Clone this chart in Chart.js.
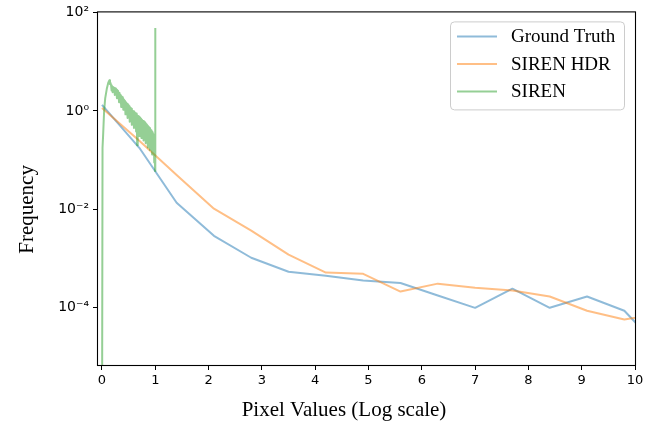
<!DOCTYPE html>
<html><head><meta charset="utf-8">
<script src="https://cdn.jsdelivr.net/npm/chart.js@4.4.1/dist/chart.umd.min.js"></script>
<style>html,body{margin:0;padding:0;background:#fff;overflow:hidden}#wrap{width:668px;height:428px}</style>
</head><body><div id="wrap"><canvas id="c" width="668" height="428"></canvas></div>
<script>
const seriesNames = ['Ground Truth', 'SIREN HDR', 'SIREN'];
const seriesColors = ['rgba(31,119,180,0.5)', 'rgba(255,127,14,0.5)', 'rgba(44,160,44,0.5)'];
const xTitle = 'Pixel Values (Log scale)';
const yTitle = 'Frequency';

const binX = [0, 0.7, 1.4, 2.1, 2.8, 3.5, 4.2, 4.9, 5.6, 6.3, 7.0, 7.7, 8.4, 9.1, 9.8, 10.5];
const groundTruth = [1.32, 0.178, 0.0136, 0.0029, 0.00104, 0.00054, 0.00045, 0.00036, 0.00032, 0.000178, 0.0001, 0.000245, 0.0001, 0.00017, 0.000087, 0.000014];
const sirenHdr = [1.15, 0.246, 0.05, 0.0103, 0.0037, 0.0012, 0.00052, 0.00049, 0.000214, 0.00031, 0.000257, 0.000224, 0.00017, 0.000087, 0.000058, 0.000076];

const sirenX = [0.000, 0.010, 0.020, 0.040, 0.060, 0.090, 0.120, 0.140, 0.150, 0.160,
  0.17, 0.18, 0.19, 0.20, 0.21, 0.22, 0.23, 0.24, 0.25, 0.26, 0.27, 0.28, 0.29, 0.30,
  0.31, 0.32, 0.33, 0.34, 0.35, 0.36, 0.37, 0.38, 0.39, 0.40, 0.41, 0.42, 0.43, 0.44,
  0.45, 0.46, 0.47, 0.48, 0.49, 0.50, 0.51, 0.52, 0.53, 0.54, 0.55, 0.56, 0.57, 0.58,
  0.59, 0.60, 0.61, 0.62, 0.63, 0.64, 0.65, 0.66, 0.67, 0.68, 0.69, 0.70, 0.71, 0.72,
  0.73, 0.74, 0.75, 0.76, 0.77, 0.78, 0.79, 0.80, 0.81, 0.82, 0.83, 0.84, 0.85, 0.86,
  0.87, 0.88, 0.89, 0.90, 0.91, 0.92, 0.93, 0.94, 0.95, 0.96, 0.97, 0.98, 0.99, 0.995, 1.0];
const siren = [1e-7, 0.18, 0.3, 1.0, 1.8, 2.8, 3.8, 4.2, 3.5, 3.7,
  3.31, 2.6, 3.1, 2.4, 3.0, 2.5, 2.9, 2.1, 2.85, 2.3, 2.7, 1.8, 2.55, 1.9,
  2.4, 1.5, 2.3, 1.6, 2.1, 1.2, 1.95, 1.35, 1.9, 1.05, 1.7, 1.15, 1.6, 0.85,
  1.5, 0.95, 1.4, 0.72, 1.3, 0.8, 1.22, 0.6, 1.15, 0.7, 1.1, 0.52, 1.0, 0.6,
  0.98, 0.45, 0.95, 0.55, 0.9, 0.38, 0.88, 0.2, 0.8, 0.42, 0.78, 0.31, 0.74, 0.4,
  0.7, 0.28, 0.66, 0.36, 0.62, 0.25, 0.6, 0.3, 0.56, 0.22, 0.53, 0.27, 0.5, 0.18,
  0.47, 0.24, 0.45, 0.16, 0.42, 0.21, 0.4, 0.13, 0.37, 0.17, 0.33, 0.09, 0.3, 0.06, 48];

const xTicks = [0, 1, 2, 3, 4, 5, 6, 7, 8, 9, 10];
const yTicks = [1e-4, 1e-2, 1, 100];
const yTickLabels = ['10\u207B\u2074', '10\u207B\u00B2', '10\u2070', '10\u00B2'];

const pairs = (xs, ys) => xs.map((x, i) => ({x: x, y: ys[i]}));

const framePlugin = {
  id: 'frame',
  afterDatasetsDraw(chart) {
    const {ctx, chartArea: a} = chart;
    ctx.save();
    ctx.strokeStyle = '#000';
    ctx.lineWidth = 1.1;
    ctx.strokeRect(a.left - 0.5, a.top - 0.5, a.right - a.left + 1, a.bottom - a.top + 1);
    ctx.restore();
  }
};

const titlesPlugin = {
  id: 'axisTitles',
  afterDraw(chart) {
    const {ctx, chartArea: a} = chart;
    ctx.save();
    ctx.fillStyle = '#000';
    ctx.font = '21px "Liberation Serif"';
    ctx.textAlign = 'center';
    ctx.textBaseline = 'middle';
    ctx.fillText(xTitle, a.left + 246, a.bottom + 45);
    ctx.translate(27, a.top + 197);
    ctx.rotate(-Math.PI / 2);
    ctx.fillText(yTitle, 0, 0);
    ctx.restore();
  }
};

const legendPlugin = {
  id: 'boxLegend',
  afterDraw(chart) {
    const {ctx, chartArea: a} = chart;
    const w = 174, h = 88;
    const x0 = a.right - 11 - w, y0 = a.top + 9;
    ctx.save();
    ctx.beginPath();
    ctx.roundRect(x0 + 0.5, y0 + 0.5, w, h, 4);
    ctx.fillStyle = 'rgba(255,255,255,0.8)';
    ctx.fill();
    ctx.strokeStyle = '#cccccc';
    ctx.lineWidth = 1;
    ctx.stroke();
    ctx.font = '19px "Liberation Serif"';
    ctx.textBaseline = 'middle';
    ctx.textAlign = 'left';
    chart.data.datasets.forEach((ds, i) => {
      const ry = y0 + 15 + i * 27.5;
      ctx.beginPath();
      ctx.strokeStyle = ds.borderColor;
      ctx.lineWidth = 2;
      ctx.moveTo(x0 + 7, ry);
      ctx.lineTo(x0 + 47, ry);
      ctx.stroke();
      ctx.fillStyle = '#000';
      ctx.fillText(ds.label, x0 + 61, ry + 1);
    });
    ctx.restore();
  }
};

new Chart(document.getElementById('c'), {
  type: 'line',
  data: {
    datasets: [
      {label: seriesNames[0], data: pairs(binX, groundTruth), borderColor: seriesColors[0], order: 3},
      {label: seriesNames[1], data: pairs(binX, sirenHdr), borderColor: seriesColors[1], order: 2},
      {label: seriesNames[2], data: pairs(sirenX, siren), borderColor: seriesColors[2], order: 1}
    ]
  },
  options: {
    responsive: false,
    animation: false,
    devicePixelRatio: 1,
    layout: {padding: {top: 12, right: 33, left: 0, bottom: 0}},
    elements: {
      point: {radius: 0, hoverRadius: 0},
      line: {borderWidth: 2, tension: 0, fill: false, borderCapStyle: 'butt', borderJoinStyle: 'round'}
    },
    plugins: {legend: {display: false}, tooltip: {enabled: false}},
    scales: {
      x: {
        type: 'linear',
        min: -0.075, max: 10,
        afterBuildTicks: s => { s.ticks = xTicks.map(v => ({value: v})); },
        afterFit: s => { s.height = 63; },
        grid: {display: true, drawOnChartArea: false, drawTicks: true, tickLength: 5, color: '#000', tickWidth: 1},
        border: {display: false},
        ticks: {color: '#000', font: {family: '"DejaVu Sans"', size: 13}, padding: 3, maxRotation: 0, autoSkip: false}
      },
      y: {
        type: 'logarithmic',
        min: 6.9e-6, max: 100,
        afterBuildTicks: s => { s.ticks = yTicks.map(v => ({value: v})); },
        afterFit: s => { s.width = 98; },
        grid: {display: true, drawOnChartArea: false, drawTicks: true, tickLength: 5, color: '#000', tickWidth: 1},
        border: {display: false},
        ticks: {
          color: '#000', font: {family: '"DejaVu Sans"', size: 14}, padding: 4, autoSkip: false,
          callback: (v) => { const k = yTicks.indexOf(v); return k >= 0 ? yTickLabels[k] : ''; }
        }
      }
    }
  },
  plugins: [framePlugin, titlesPlugin, legendPlugin]
});
</script>
</body></html>
